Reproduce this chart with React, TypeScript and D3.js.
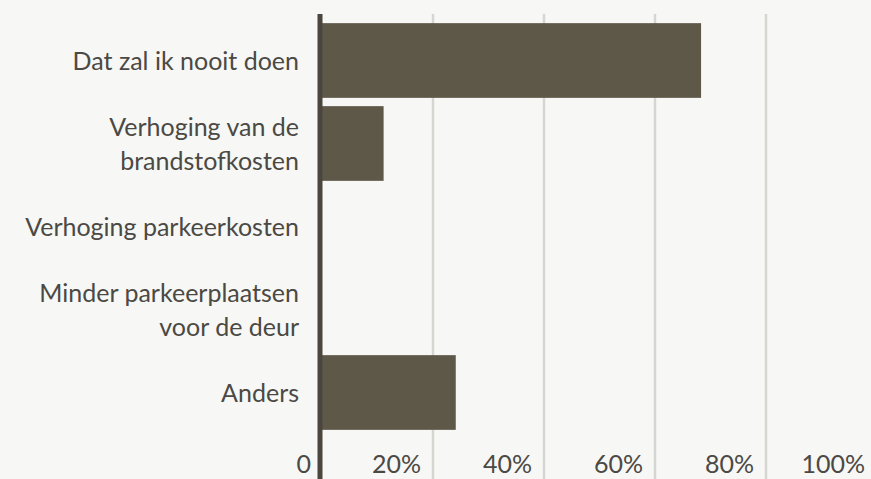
import React, { useEffect, useRef } from "react";
import * as d3 from "d3";

// categories (each label split into its display lines)
const categories = [
  ["Dat zal ik nooit doen"],
  ["Verhoging van de", "brandstofkosten"],
  ["Verhoging parkeerkosten"],
  ["Minder parkeerplaatsen", "voor de deur"],
  ["Anders"],
];
const values = [68.3, 11.1, 0, 0, 24.1];
const tickValues = [0, 20, 40, 60, 80, 100];

const App = () => {
  const chart = useRef<SVGSVGElement>(null);

  useEffect(() => {
    document.body.style.margin = "0";
    document.body.style.background = "#f7f7f5";
    draw();
  }, []);

  const width = 871;
  const height = 479;
  const font = "Lato, 'Open Sans', sans-serif";

  const draw = () => {
    const svg = d3.select(chart.current);
    svg.selectAll("*").remove();

    svg.append("rect").attr("width", width).attr("height", height).attr("fill", "#f7f7f5");

    const x = d3.scaleLinear().domain([0, 100]).range([322, 877]);
    const y = d3
      .scaleBand()
      .domain(d3.range(categories.length).map(String))
      .range([19, 434])
      .paddingInner(0.1)
      .paddingOuter(0.05);

    // gridlines
    svg
      .append("g")
      .selectAll("line")
      .data(tickValues.slice(1))
      .join("line")
      .attr("x1", (d) => x(d))
      .attr("x2", (d) => x(d))
      .attr("y1", 14)
      .attr("y2", height)
      .attr("stroke", "#d5d5d2")
      .attr("stroke-width", 2.5);

    // bars
    svg
      .append("g")
      .attr("fill", "#5e5849")
      .selectAll("rect")
      .data(values)
      .join("rect")
      .attr("x", x(0))
      .attr("y", (d, i) => y(String(i)))
      .attr("width", (d) => x(d) - x(0))
      .attr("height", y.bandwidth());

    // axis line
    svg
      .append("line")
      .attr("x1", 320)
      .attr("x2", 320)
      .attr("y1", 14)
      .attr("y2", height)
      .attr("stroke", "#4a463e")
      .attr("stroke-width", 5);

    // category labels
    const lineH = 34;
    const labels = svg
      .append("g")
      .attr("font-family", font)
      .attr("font-size", 25)
      .attr("fill", "#4b4944")
      .attr("text-anchor", "end");

    categories.forEach((lines, i) => {
      const cy = y(String(i)) + y.bandwidth() / 2;
      const t = labels.append("text").attr("x", 299);
      lines.forEach((ln, j) => {
        t.append("tspan")
          .attr("x", 299)
          .attr("y", cy + 9 + (j - (lines.length - 1) / 2) * lineH)
          .text(ln);
      });
    });

    // tick labels
    svg
      .append("g")
      .attr("font-family", font)
      .attr("font-size", 25)
      .attr("fill", "#4b4944")
      .attr("text-anchor", "end")
      .selectAll("text")
      .data(tickValues)
      .join("text")
      .attr("x", (d) => (d === 0 ? 311 : x(d) - 12))
      .attr("y", 473)
      .text((d) => (d === 0 ? "0" : d + "%"));
  };

  return (
    <svg
      ref={chart}
      width={width}
      height={height}
      style={{ display: "block", position: "absolute", left: 0, top: 0 }}
    ></svg>
  );
};

export default App;
